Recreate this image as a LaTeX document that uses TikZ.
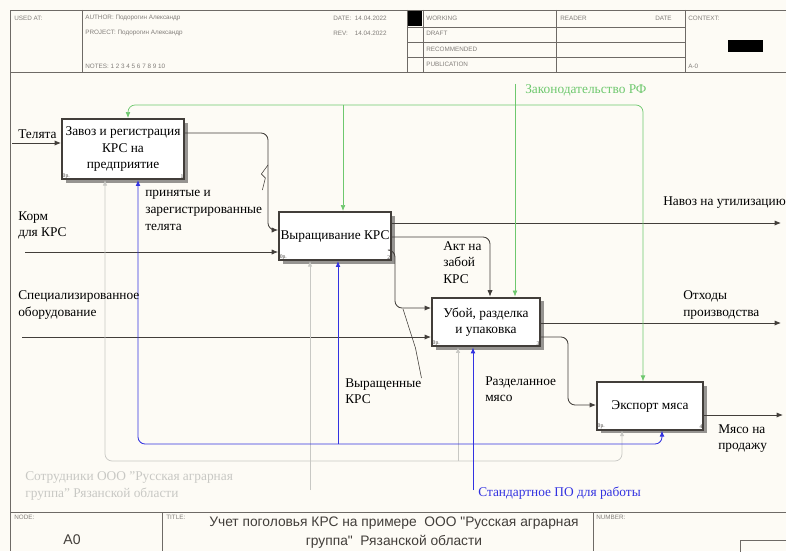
\documentclass[tikz,border=0pt]{standalone}
\usepackage{fontspec}
\setmainfont{Liberation Serif}
\newfontfamily\hdrfont{Liberation Sans}
\usetikzlibrary{arrows.meta,positioning,calc,shadows}
\definecolor{IDEFPaper}{RGB}{253,251,245}
\definecolor{IDEFLine}{RGB}{66,62,58}
\definecolor{IDEFShadow}{RGB}{150,148,145}
\definecolor{IDEFGreen}{RGB}{110,200,110}
\definecolor{IDEFBlue}{RGB}{50,50,225}
\definecolor{IDEFStaff}{RGB}{200,200,196}
\definecolor{IDEFFrame}{RGB}{110,106,102}
\definecolor{IDEFHdr}{RGB}{130,126,122}

\begin{document}
\begin{tikzpicture}[
    x=0.025cm, y=-0.025cm,
    fn/.style={draw=IDEFLine, line width=1.4pt, fill=white, align=center, inner sep=1pt,
      font=\fontsize{9.5}{11.5}\selectfont,
      drop shadow={shadow xshift=0.09cm, shadow yshift=-0.09cm, fill=IDEFShadow, opacity=1}},
    cost/.style={font=\fontsize{4}{4}\selectfont, text=IDEFLine, inner sep=1pt},
    arr/.style={-{Latex[length=1.6mm,width=1.3mm]}, draw=IDEFLine, line width=0.6pt, rounded corners=5pt},
    ctl/.style={-{Latex[length=1.5mm,width=1.2mm]}, draw=IDEFGreen, line width=0.5pt, rounded corners=5pt},
    mech/.style={-{Latex[length=1.5mm,width=1.2mm]}, draw=IDEFBlue, line width=0.6pt, rounded corners=5pt},
    staff/.style={-{Latex[length=1.4mm,width=1.1mm]}, draw=IDEFStaff, line width=0.5pt, rounded corners=5pt},
    lead/.style={draw=IDEFLine, line width=0.4pt},
    lbl/.style={font=\fontsize{9.5}{12}\selectfont, align=left, inner sep=0pt, anchor=north west},
    hdr/.style={font=\hdrfont\fontsize{4.5}{5}\selectfont, text=IDEFHdr, inner sep=0pt, anchor=west},
    frm/.style={draw=IDEFFrame, line width=0.6pt}
  ]
  \useasboundingbox (0,0) rectangle (786,551);
  \fill[IDEFPaper] (0,0) rectangle (786,551);

  % header and footer
  \draw[frm] (10,10) rectangle (800,72);
  \draw[frm] (10,72) -- (10,551);
  \draw[frm] (10,512) -- (800,512);
  \foreach \xx in {82,407,423,556,685} {\draw[frm] (\xx,10) -- (\xx,72);}
  \foreach \yy in {27,42,57} {\draw[frm] (407,\yy) -- (685,\yy);}
  \foreach \xx in {162,593} {\draw[frm] (\xx,512) -- (\xx,551);}
  \fill[black] (408,11) rectangle (422,26);
  \fill[black] (728,40) rectangle (763,52);
  \draw[frm] (740,540) rectangle (800,560);
  \node[hdr] (usedat) at (14,18) {USED AT:};
  \node[hdr] (author) at (85,18) {AUTHOR: Подорогин Александр};
  \node[hdr] (project) at (85,33) {PROJECT: Подорогин Александр};
  \node[hdr] (notes) at (85,66) {NOTES: 1 2 3 4 5 6 7 8 9 10};
  \node[hdr] (date) at (333,18) {DATE:\ \ 14.04.2022};
  \node[hdr] (rev) at (333,33) {REV:\ \ \ \ 14.04.2022};
  \node[hdr] (working) at (426,18) {WORKING};
  \node[hdr] (draft) at (426,33) {DRAFT};
  \node[hdr] (recom) at (426,49) {RECOMMENDED};
  \node[hdr] (public) at (426,64) {PUBLICATION};
  \node[hdr] (reader) at (560,18) {READER};
  \node[hdr] (rdate) at (655,18) {DATE};
  \node[hdr] (context) at (688,18) {CONTEXT:};
  \node[hdr] (ctxnode) at (688,66) {A-0};
  \node[hdr] (nodelbl) at (14,517) {NODE:};
  \node[hdr] (titlelbl) at (166,517) {TITLE:};
  \node[hdr] (numlbl) at (596,517) {NUMBER:};
  \node[font=\hdrfont\fontsize{10}{12}\selectfont, text=IDEFLine] (nodeno) at (72,540) {A0};
  \node[font=\hdrfont\fontsize{9.8}{13.5}\selectfont, text=IDEFLine, align=center] (title) at (394,533)
    {Учет поголовья КРС на примере\ \ ООО "Русская аграрная\\группа"\ \ Рязанской области};

  % activity boxes
  \node[fn, minimum width=3.05cm, minimum height=1.5cm] (b1) at (123,149) {Завоз и регистрация\\КРС на\\предприятие};
  \node[fn, minimum width=2.75cm, minimum height=1.2cm] (b2) at (335,236) {Выращивание КРС};
  \node[fn, minimum width=2.7cm, minimum height=1.22cm] (b3) at (486,322) {Убой, разделка\\и упаковка};
  \node[fn, minimum width=2.65cm, minimum height=1.18cm] (b4) at (650,406) {Экспорт мяса};
  \foreach \b/\n in {b1/1,b2/2,b3/3,b4/4} {
    \node[cost, anchor=south west] at (\b.south west) {0р.};
    \node[cost, anchor=south east] at (\b.south east) {\n};
  }

  % inputs and outputs
  \coordinate (tel) at (12,143);
  \coordinate (korm) at (25,252);
  \coordinate (spec) at (22,337);
  \draw[arr] (tel) -- (tel -| b1.west);
  \draw[arr] (korm) -- (korm -| b2.west);
  \draw[arr] (spec) -- (spec -| b3.west);
  \coordinate (prin1) at (268,133);
  \coordinate (prin2) at (268,230);
  \draw[arr] (prin1 -| b1.east) -- (prin1) -- (prin2) -- (prin2 -| b2.west);
  \coordinate (navoz) at (781,223);
  \coordinate (akt) at (490,237);
  \coordinate (vyr1) at (395,250);
  \coordinate (vyr2) at (395,308);
  \draw[arr] (navoz -| b2.east) -- (navoz);
  \draw[arr] (akt -| b2.east) -- (akt) -- (akt |- b3.north);
  \draw[arr] (vyr1 -| b2.east) -- (vyr1) -- (vyr2) -- (vyr2 -| b3.west);
  \coordinate (otx) at (781,323);
  \coordinate (raz1) at (568,337);
  \coordinate (raz2) at (568,405);
  \draw[arr] (otx -| b3.east) -- (otx);
  \draw[arr] (raz1 -| b3.east) -- (raz1) -- (raz2) -- (raz2 -| b4.west);
  \coordinate (myaso) at (783,415);
  \draw[arr] (myaso -| b4.east) -- (myaso);

  % controls
  \coordinate (zak) at (515,84);
  \coordinate (g1) at (128,105);
  \coordinate (g2) at (343,105);
  \coordinate (g4) at (643,105);
  \draw[ctl, {Latex[length=1.5mm,width=1.2mm]}-{Latex[length=1.5mm,width=1.2mm]}] (g1 |- b1.north) -- (g1) -- (g4) -- (g4 |- b4.north);
  \draw[ctl, rounded corners=0pt] (g2) -- (g2 |- b2.north);
  \draw[ctl, rounded corners=0pt] (zak) -- (zak |- b3.north);

  % mechanisms
  \coordinate (s1) at (105,461);
  \coordinate (s2) at (310,490);
  \coordinate (s3) at (458,461);
  \coordinate (s4) at (622,461);
  \draw[staff, {Latex[length=1.4mm,width=1.1mm]}-{Latex[length=1.4mm,width=1.1mm]}] (s1 |- b1.south) -- (s1) -- (s4) -- (s4 |- b4.south);
  \draw[staff] (s2) -- (s2 |- b2.south);
  \draw[staff] (s3) -- (s3 |- b3.south);
  \coordinate (m1) at (138,444);
  \coordinate (m2) at (338,444);
  \coordinate (m3) at (473,490);
  \coordinate (m4) at (662,444);
  \draw[mech, {Latex[length=1.5mm,width=1.2mm]}-{Latex[length=1.5mm,width=1.2mm]}] (m1 |- b1.south) -- (m1) -- (m4) -- (m4 |- b4.south);
  \draw[mech] (m2) -- (m2 |- b2.south);
  \draw[mech] (m3) -- (m3 |- b3.south);

  % arrow labels
  \node[lbl, anchor=south west] (ltel) at (18,139) {Телята};
  \node[lbl] (lkorm) at (18,211) {Корм\\для КРС};
  \node[lbl] (lspec) at (18,290) {Специализированное\\оборудование};
  \node[lbl] (lprin) at (145,190) {принятые и\\зарегистрированные\\телята};
  \node[lbl] (lnavoz) at (663,196) {Навоз на утилизацию};
  \node[lbl] (lakt) at (443,241) {Акт на\\забой\\КРС};
  \node[lbl] (lvyr) at (345,378) {Выращенные\\КРС};
  \node[lbl] (lotx) at (683,290) {Отходы\\производства};
  \node[lbl] (lraz) at (485,376) {Разделанное\\мясо};
  \node[lbl] (lmyaso) at (718,424) {Мясо на\\продажу};
  \node[lbl, anchor=west, text=IDEFGreen] (lzak) at (525,90) {Законодательство РФ};
  \node[lbl, anchor=west, text=IDEFBlue] (lstd) at (478,493) {Стандартное ПО для работы};
  \node[lbl, text=IDEFStaff] (lstaff) at (25,471) {Сотрудники ООО "Русская аграрная\\группа" Рязанской области};
  \coordinate (printap) at (268,165);
  \coordinate (vyrtap) at (403,309);
  \draw[lead] (lprin.north east) -- ++(3,-12) -- ++(-4,-4) -- (printap);
  \draw[lead] (lvyr.north east) -- ++(-6,-30) -- (vyrtap);
\end{tikzpicture}
\end{document}
